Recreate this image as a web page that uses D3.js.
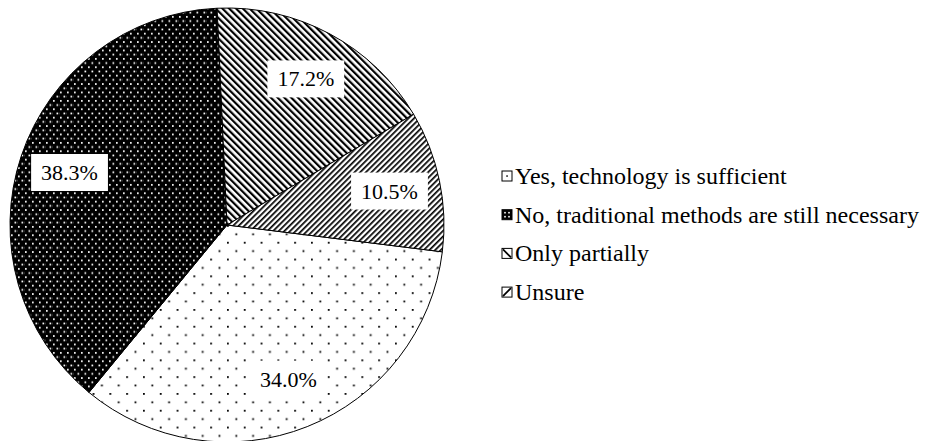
<!DOCTYPE html>
<html>
<head>
<meta charset="utf-8">
<script src="https://cdn.jsdelivr.net/npm/d3@7"></script>
<style>
  body { margin: 0; background: #fff; }
</style>
</head>
<body>
<svg width="925" height="441"></svg>
<script>
// answers in legend order
var categories = ["Yes, technology is sufficient",
                  "No, traditional methods are still necessary",
                  "Only  partially",
                  "Unsure"];
var values = [34.0, 38.3, 17.2, 10.5];
var labels = ["34.0%", "38.3%", "17.2%", "10.5%"];
var patternIds = ["dotsSparse", "dotsDense", "hatchBack", "hatchFwd"];

var FONT = "'Liberation Serif', 'Times New Roman', 'DejaVu Serif', serif";

var svg = d3.select("svg"),
    cx = 227, cy = 225, radius = 217,
    start = 97.1 * Math.PI / 180;

var defs = svg.append("defs");

// sparse black dots on white
var p = defs.append("pattern").attr("id", "dotsSparse")
    .attr("patternUnits", "userSpaceOnUse").attr("width", 16.8).attr("height", 16.8);
p.append("rect").attr("width", 16.8).attr("height", 16.8).attr("fill", "#fff");
p.append("rect").attr("x", 0).attr("y", 0).attr("width", 1.8).attr("height", 1.8).attr("fill", "#000");
p.append("rect").attr("x", 8.4).attr("y", 8.4).attr("width", 1.8).attr("height", 1.8).attr("fill", "#000");

// white dots on black
p = defs.append("pattern").attr("id", "dotsDense")
    .attr("patternUnits", "userSpaceOnUse").attr("width", 7).attr("height", 8.4);
p.append("rect").attr("width", 7).attr("height", 8.4).attr("fill", "#000");
p.append("rect").attr("x", 1).attr("y", 1).attr("width", 1.7).attr("height", 1.7).attr("fill", "#fff");
p.append("rect").attr("x", 4.5).attr("y", 5.2).attr("width", 1.7).attr("height", 1.7).attr("fill", "#fff");

// diagonal hatches
function hatch(id, gap, sw, angle) {
  var h = defs.append("pattern").attr("id", id)
      .attr("patternUnits", "userSpaceOnUse").attr("width", gap).attr("height", gap)
      .attr("patternTransform", "rotate(" + angle + ")");
  h.append("rect").attr("width", gap).attr("height", gap).attr("fill", "#fff");
  h.append("rect").attr("x", 0).attr("y", 0).attr("width", sw).attr("height", gap).attr("fill", "#000");
}
hatch("hatchBack", 4.8, 2.2, -45);
hatch("hatchFwd", 4.0, 1.7, 45);

var pie = d3.pie().sort(null).value(function(d) { return d; })
    .startAngle(start).endAngle(start + 2 * Math.PI);
var arcs = pie(values);

var arc = d3.arc().innerRadius(0).outerRadius(radius);
var labelArc = d3.arc().innerRadius(166).outerRadius(166);

var g = svg.append("g").attr("transform", "translate(" + cx + "," + cy + ")");

g.selectAll("path.slice")
  .data(arcs)
  .enter().append("path")
    .attr("class", "slice")
    .attr("d", arc)
    .attr("fill", function(d, i) { return "url(#" + patternIds[i] + ")"; })
    .attr("stroke", "#000")
    .attr("stroke-width", 1);

var lab = g.selectAll("g.lab")
  .data(arcs)
  .enter().append("g")
    .attr("class", "lab")
    .attr("transform", function(d) { return "translate(" + labelArc.centroid(d) + ")"; });

lab.append("rect").attr("fill", "#fff");
lab.append("text")
    .attr("text-anchor", "middle")
    .attr("dominant-baseline", "central")
    .attr("font-family", FONT)
    .attr("font-size", 22)
    .text(function(d, i) { return labels[i]; });
lab.each(function() {
  var b = d3.select(this).select("text").node().getBBox();
  d3.select(this).select("rect")
    .attr("x", b.x - 10).attr("y", b.y - 6)
    .attr("width", b.width + 20).attr("height", b.height + 12);
});

// legend
var legend = svg.append("g").attr("transform", "translate(502,176)");
var row = legend.selectAll("g")
  .data(categories)
  .enter().append("g")
    .attr("transform", function(d, i) { return "translate(0," + (i * 38.7) + ")"; });

var icons = row.append("g").attr("transform", "translate(0,-5)");
icons.append("rect")
    .attr("width", 10).attr("height", 10)
    .attr("fill", function(d, i) { return i === 1 ? "#000" : "#fff"; })
    .attr("stroke", "#000").attr("stroke-width", 1);
icons.each(function(d, i) {
  var ic = d3.select(this);
  if (i === 0) {
    ic.append("rect").attr("x", 4.3).attr("y", 4.3).attr("width", 1.5).attr("height", 1.5).attr("fill", "#000");
  } else if (i === 1) {
    [[2.2, 2.2], [6.2, 2.2], [2.2, 6.2], [6.2, 6.2]].forEach(function(q) {
      ic.append("rect").attr("x", q[0]).attr("y", q[1]).attr("width", 1.6).attr("height", 1.6).attr("fill", "#fff");
    });
  } else if (i === 2) {
    ic.append("line").attr("x1", 1).attr("y1", 1).attr("x2", 9).attr("y2", 9)
      .attr("stroke", "#000").attr("stroke-width", 1.8);
  } else {
    ic.append("line").attr("x1", 1).attr("y1", 9).attr("x2", 9).attr("y2", 1)
      .attr("stroke", "#000").attr("stroke-width", 1.8);
  }
});

row.append("text")
    .attr("x", 13)
    .attr("dominant-baseline", "central")
    .attr("font-family", FONT)
    .attr("font-size", 24)
    .text(function(d) { return d; });
</script>
</body>
</html>
